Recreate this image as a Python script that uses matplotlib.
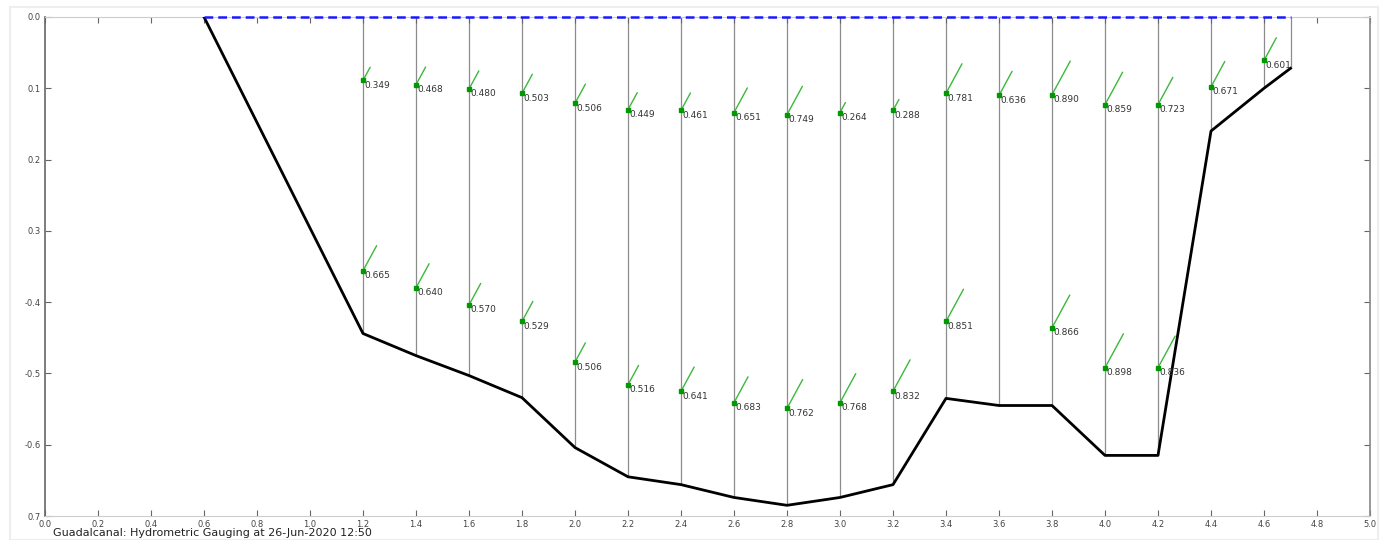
import matplotlib.pyplot as plt
from matplotlib.patches import Rectangle
import numpy as np

# river bed profile (distance, depth)
bed_x = [0.6, 1.2, 1.4, 1.6, 1.8, 2.0, 2.2, 2.4, 2.6, 2.8, 3.0, 3.2, 3.4, 3.6, 3.8, 4.0, 4.2, 4.4, 4.6, 4.7]
bed_depth = [0.0, 0.444, 0.475, 0.503, 0.534, 0.604, 0.645, 0.656, 0.674, 0.685, 0.674, 0.656,
             0.535, 0.545, 0.545, 0.615, 0.615, 0.160, 0.100, 0.072]

# upper velocity points
top_x = [1.2, 1.4, 1.6, 1.8, 2.0, 2.2, 2.4, 2.6, 2.8, 3.0, 3.2, 3.4, 3.6, 3.8, 4.0, 4.2, 4.4, 4.6]
top_depth = [0.089, 0.095, 0.101, 0.107, 0.121, 0.130, 0.131, 0.134, 0.137, 0.134, 0.131, 0.107,
             0.110, 0.109, 0.123, 0.123, 0.098, 0.061]
top_vel = [0.349, 0.468, 0.480, 0.503, 0.506, 0.449, 0.461, 0.651, 0.749, 0.264, 0.288, 0.781,
           0.636, 0.890, 0.859, 0.723, 0.671, 0.601]

# lower velocity points
low_x = [1.2, 1.4, 1.6, 1.8, 2.0, 2.2, 2.4, 2.6, 2.8, 3.0, 3.2, 3.4, 3.8, 4.0, 4.2]
low_depth = [0.356, 0.380, 0.404, 0.427, 0.484, 0.516, 0.525, 0.541, 0.549, 0.541, 0.525, 0.427,
             0.436, 0.492, 0.492]
low_vel = [0.665, 0.640, 0.570, 0.529, 0.506, 0.516, 0.641, 0.683, 0.762, 0.768, 0.832, 0.851,
           0.866, 0.898, 0.836]

x_ticks = [round(0.2 * i, 1) for i in range(26)]
y_ticks = [0.0, 0.1, 0.2, 0.3, 0.4, 0.5, 0.6, 0.7]
y_labels = ['0.0', '0.1', '0.2', '0.3', '-0.4', '-0.5', '-0.6', '0.7']
title = 'Guadalcanal: Hydrometric Gauging at 26-Jun-2020 12:50'

fig = plt.figure(figsize=(13.88, 5.4), dpi=100)
fig.patches.append(Rectangle((10 / 1388, 0.0), 1 - 20 / 1388, 1 - 7 / 540, transform=fig.transFigure,
                             fill=False, edgecolor='#eeeeee', lw=1.5))
ax = fig.add_axes([45 / 1388, 24 / 540, 1325 / 1388, 499 / 540])

# verticals
ax.vlines(bed_x[1:], 0, bed_depth[1:], color='#8c8c8c', lw=0.9, zorder=1)
# water surface
ax.plot([bed_x[0], bed_x[-1]], [0, 0], color='#1a1aff', lw=1.8, dashes=(3.5, 2),
        zorder=6, clip_on=False)
# bed
ax.plot(bed_x, bed_depth, color='black', lw=2, zorder=3)

ang = np.radians(61.5)
px_per_vel = 43.0
for xs, ds, vs in [(top_x, top_depth, top_vel), (low_x, low_depth, low_vel)]:
    for x, d, v in zip(xs, ds, vs):
        L = v * px_per_vel
        ax.annotate('', xy=(x, d), xytext=(L * np.cos(ang), L * np.sin(ang)),
                    textcoords='offset pixels',
                    arrowprops=dict(arrowstyle='-', color='#3cb83c', lw=1, shrinkA=0, shrinkB=0),
                    zorder=4)
        ax.annotate('%.3f' % v, xy=(x, d), xytext=(1, -5), textcoords='offset pixels',
                    fontsize=6.5, color='#333333', ha='left', va='center')
    ax.plot(xs, ds, 's', color='#009900', ms=3.5, zorder=5)

ax.set_xlim(0, 5)
ax.set_ylim(0.7, 0)
ax.set_xticks(x_ticks)
ax.set_xticklabels(['%.1f' % t for t in x_ticks])
ax.set_yticks(y_ticks)
ax.set_yticklabels(y_labels)
ax.tick_params(axis='both', direction='in', length=4, labelsize=6, labelcolor='#444444',
               color='#666666', top=True, right=True, pad=3)

ax.spines['left'].set_color('#666666')
ax.spines['left'].set_linewidth(1.2)
ax.spines['right'].set_color('#888888')
ax.spines['right'].set_linewidth(1.2)
ax.spines['top'].set_color('#cccccc')
ax.spines['bottom'].set_color('#cccccc')

fig.text(53 / 1388, 1 - 533 / 540, title, fontsize=8, color='#222222', ha='left', va='center')

fig.savefig('out.png', dpi=100)
